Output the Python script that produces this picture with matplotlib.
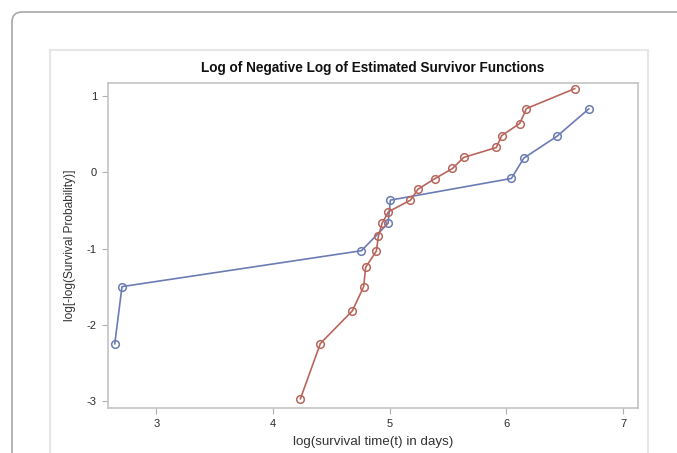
import matplotlib.pyplot as plt
from matplotlib.patches import FancyBboxPatch, Rectangle

plt.rcParams['font.family'] = ['Liberation Sans', 'DejaVu Sans']
plt.rcParams['axes.unicode_minus'] = False

# group 1 (blue)
x_blue = [2.643, 2.705, 4.757, 4.985, 5.005, 6.042, 6.148, 6.433, 6.705]
y_blue = [-2.253, -1.501, -1.029, -0.669, -0.364, -0.079, 0.188, 0.476, 0.835]

# group 2 (red)
x_red = [4.234, 4.405, 4.679, 4.776, 4.793, 4.885, 4.902, 4.934, 4.988,
         5.177, 5.242, 5.385, 5.537, 5.633, 5.913, 5.959, 6.113, 6.171, 6.585]
y_red = [-2.975, -2.249, -1.820, -1.501, -1.247, -1.033, -0.840, -0.669, -0.517,
         -0.364, -0.219, -0.083, 0.052, 0.197, 0.328, 0.485, 0.643, 0.840, 1.102]

xticks = [3, 4, 5, 6, 7]
yticks = [-3, -2, -1, 0, 1]

W, H = 677, 453
fig = plt.figure(figsize=(W / 100, H / 100), dpi=100)

# outer rounded card and inner panel (drawn in pixels)
card = FancyBboxPatch((12, -40), 720, H - 12 + 40,
                      boxstyle="round,pad=0,rounding_size=10",
                      transform=None, facecolor='white',
                      edgecolor='#a8a8a8', linewidth=1.2, zorder=-2)
fig.patches.append(card)
panel = Rectangle((50, -20), 648 - 50, H - 50 + 20,
                  transform=None, facecolor='white',
                  edgecolor='#e6e6e6', linewidth=1.5, zorder=-1)
fig.patches.append(panel)

ax = fig.add_axes([108 / W, 1 - 408 / H, (638 - 108) / W, (408 - 83) / H])

blue = '#6b7cb4'
red = '#b8665c'
ax.plot(x_blue, y_blue, color=blue, lw=1.2, marker='o', ms=5.5,
        mfc='none', mec=blue, mew=1.1)
ax.plot(x_red, y_red, color=red, lw=1.2, marker='o', ms=5.5,
        mfc='none', mec=red, mew=1.1)

ax.set_xlim(2.585, 7.127)
ax.set_ylim(-3.097, 1.176)
ax.set_xticks(xticks)
ax.set_yticks(yticks)
for s in ax.spines.values():
    s.set_color('#c4c4c4')
    s.set_linewidth(1.2)
ax.tick_params(length=4, width=0.8, color='#b0b0b0', labelsize=8,
               labelcolor='#2a2a2a', pad=4)

ax.set_title('Log of Negative Log of Estimated Survivor Functions',
             fontsize=9.8, fontweight='bold', color='#111111', pad=8)
ax.set_xlabel('log(survival time(t) in days)', fontsize=9.6, color='#333333', labelpad=5)
ax.set_ylabel('log[-log(Survival Probability)]', fontsize=8.6, color='#333333', labelpad=8)

fig.savefig('out.png', dpi=100)
